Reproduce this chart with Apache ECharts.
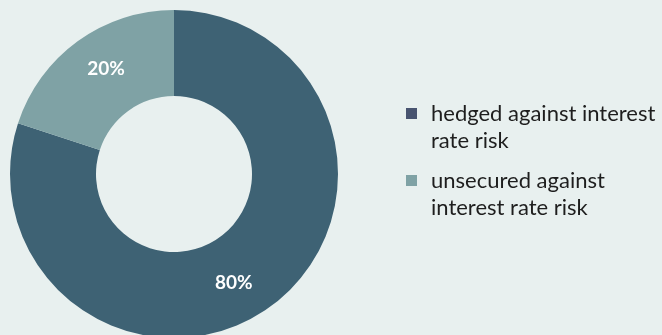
<!DOCTYPE html>
<html>
<head>
<meta charset="utf-8">
<script src="https://cdn.jsdelivr.net/npm/echarts@6/dist/echarts.min.js"></script>
<style>
  html, body { margin: 0; padding: 0; background: #e8f0ef; }
  #chart { width: 662px; height: 335px; }
</style>
</head>
<body>
<div id="chart"></div>
<script>
// Share of the loan portfolio by interest-rate hedging status
const categories = ['hedged against interest rate risk', 'unsecured against interest rate risk'];
const legendLines = [['hedged against interest', 'rate risk'], ['unsecured against', 'interest rate risk']];
const shares = [80, 20];

const sliceColors = ['#3e6274', '#7fa2a5'];
const legendColors = ['#485470', '#7fa2a5'];
const FONT = 'Lato, "Liberation Sans", sans-serif';

// Small offsets for the in-slice value labels
const labelShift = [[-13, 9], [5, -5]];

const chart = echarts.init(document.getElementById('chart'), null, { renderer: 'canvas' });

chart.setOption({
  backgroundColor: '#e8f0ef',
  animation: false,
  legend: {
    orient: 'vertical',
    left: 406,
    top: 73,
    padding: 0,
    itemWidth: 11,
    itemHeight: 11,
    itemGap: -14,
    icon: 'rect',
    selectedMode: false,
    data: categories.map((name, i) => ({ name, itemStyle: { color: legendColors[i] } })),
    // leading blank line keeps the marker level with the first text line
    formatter: name => '\n' + legendLines[categories.indexOf(name)].join('\n'),
    textStyle: {
      fontFamily: FONT,
      fontSize: 22,
      lineHeight: 27,
      color: '#1e1e1e',
      padding: [0, 0, 0, 9]
    }
  },
  series: [{
    type: 'pie',
    center: [174, 174],
    radius: [78, 164],
    startAngle: 90,
    clockwise: true,
    silent: true,
    label: {
      show: true,
      position: 'inside',
      formatter: '{c}%',
      color: '#ffffff',
      fontFamily: FONT,
      fontWeight: 'bold',
      fontSize: 19
    },
    labelLayout: params => ({ dx: labelShift[params.dataIndex][0], dy: labelShift[params.dataIndex][1] }),
    labelLine: { show: false },
    itemStyle: { borderWidth: 0 },
    data: categories.map((name, i) => ({
      name,
      value: shares[i],
      itemStyle: { color: sliceColors[i] }
    }))
  }]
});
</script>
</body>
</html>
